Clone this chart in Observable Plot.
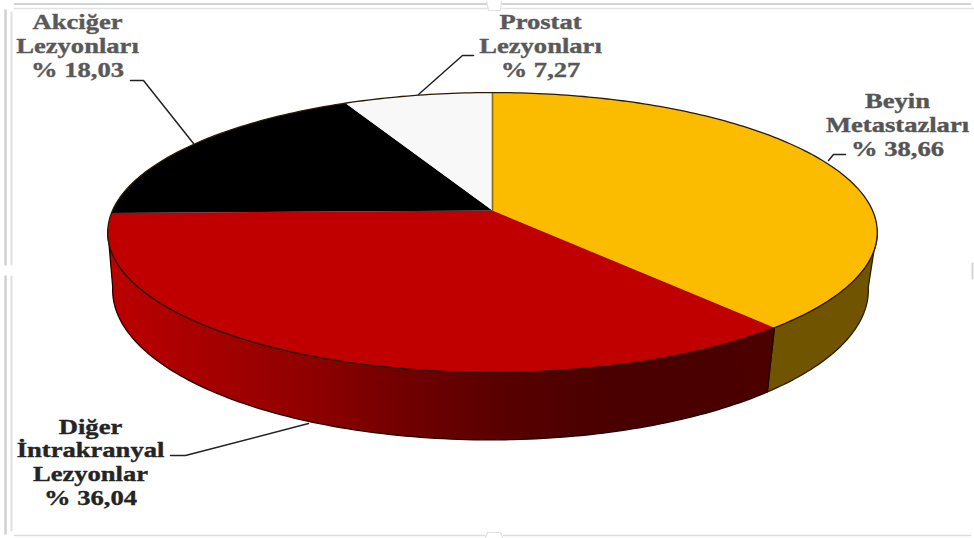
<!DOCTYPE html>
<html lang="tr">
<head>
<meta charset="utf-8">
<style>
  html, body { margin: 0; padding: 0; background: #fff; }
  svg { display: block; }
</style>
<script src="https://cdn.jsdelivr.net/npm/d3@7"></script>
<script src="https://cdn.jsdelivr.net/npm/@observablehq/plot@0.6"></script>
</head>
<body>
<div id="chart"></div>
<script>
// Slices, clockwise from twelve o'clock
const names = ["Beyin\nMetastazları", "Diğer\nİntrakranyal\nLezyonlar", "Akciğer\nLezyonları", "Prostat\nLezyonları"];
const shares = [38.66, 36.04, 18.03, 7.27];
const shareLabels = ["% 38,66", "% 36,04", "% 18,03", "% 7,27"];
const faceColors = ["#fbbc00", "#c00000", "#000000", "#f8f8f8"];
const labelColors = ["#555555", "#242424", "#595959", "#595959"];

// Where each label block is centred, and the elbowed leader running from it to the pie
const labelX = [897, 90, 77, 540];
const labelY = [124, 461, 45, 45];
const leaders = [
  [[845, 154], [833, 154], [828, 160]],
  [[170, 455], [185, 455], [308, 423]],
  [[130, 80], [143, 80], [193, 143]],
  [[473, 55], [462, 55], [418, 94]]
];

// Tilted disc: a projective map from the unit circle to the drawing plane
const centre = {x: 492, y: 210};
const spread = {x: 380, y: 103.5};
const tilt = 0.157;
function topPoint(deg) {
  const a = deg * Math.PI / 180;
  const u = Math.sin(a), v = -Math.cos(a), w = 1 - tilt * v;
  return {x: centre.x + spread.x * u / w, y: (centre.y + spread.y * v) / w};
}
// The underside of the disc, lower and slightly narrower
function basePoint(deg) {
  const p = topPoint(deg);
  return {x: 490 + (p.x - 492) * 0.982, y: 289.5 + (p.y - 232) * 150 / 140};
}
function arc(from, to, at) {
  const n = Math.max(2, Math.ceil(Math.abs(to - from)));
  return d3.range(n + 1).map(i => at(from + (to - from) * i / n));
}

const cuts = d3.cumsum(shares).map(s => s * 3.6);
const starts = [0, ...cuts.slice(0, -1)];

const faces = shares.map((_, i) => [centre, ...arc(starts[i], cuts[i], topPoint), centre]);

// The rim is visible between the two silhouette tangents of the disc
const visibleFrom = 98, visibleTo = 262;
const yellowSide = [...arc(visibleFrom, cuts[0], topPoint), ...arc(cuts[0], visibleFrom, basePoint), topPoint(visibleFrom)];
const redSide = [...arc(cuts[0], visibleTo, topPoint), ...arc(visibleTo, cuts[0], basePoint), topPoint(cuts[0])];

// Faint picture frame around the chart
const frameLines = [
  {c: "#c4c4c4", w: 1.6, p: [[14, 3.5], [486, 3.5]]},
  {c: "#c4c4c4", w: 1.6, p: [[502, 3.5], [970, 3.5]]},
  {c: "#e2e2e2", w: 1.4, p: [[14, 8], [486, 8]]},
  {c: "#e2e2e2", w: 1.4, p: [[502, 8], [974, 8]]},
  {c: "#cfcfcf", w: 2.4, p: [[5, 10], [5, 264]]},
  {c: "#cfcfcf", w: 2.4, p: [[5, 276], [5, 533]]},
  {c: "#e0e0e0", w: 2, p: [[11, 12], [11, 264]]},
  {c: "#e0e0e0", w: 2, p: [[11, 276], [11, 530]]},
  {c: "#dcdcdc", w: 1.6, p: [[14, 535], [484, 535]]},
  {c: "#dcdcdc", w: 1.6, p: [[503, 535], [970, 535]]},
  {c: "#e0e0e0", w: 1.2, p: [[486, 1], [488, 10], [500, 10], [501, 1]]},
  {c: "#e0e0e0", w: 1.2, p: [[485, 537], [487, 532], [500, 532], [502, 537]]},
  {c: "#d4d4d4", w: 2, p: [[972, 263], [972, 278]]}
];

// Side shading of the red slice runs from bright on the left to almost black
const redShade = [[0, "#bc0000"], [0.3, "#900000"], [0.45, "#700000"], [0.6, "#580000"], [0.75, "#4a0000"], [1, "#4c0000"]];
const shadeDefs = () => {
  const defs = d3.create("svg:defs");
  defs.append("linearGradient").attr("id", "red-side")
    .selectAll("stop").data(redShade).join("stop")
    .attr("offset", d => d[0]).attr("stop-color", d => d[1]);
  return defs.node();
};

// Text in this figure is set wide, so each label is stretched sideways
const widen = k => (index, scales, values, dims, context, next) => {
  const g = next(index, scales, values, dims, context);
  d3.select(g).selectAll("text").attr("transform", function () {
    return `${this.getAttribute("transform")} scale(${k},1)`;
  });
  return g;
};

const xy = {x: "x", y: "y"};
const pairs = pts => pts.map(([x, y]) => ({x, y}));

const chart = Plot.plot({
  width: 974,
  height: 538,
  margin: 0,
  x: {domain: [0, 974], range: [0, 974], axis: null},
  y: {domain: [0, 538], range: [0, 538], axis: null},
  style: {background: "#fff"},
  marks: [
    shadeDefs,
    ...frameLines.map(l => Plot.line(pairs(l.p), {...xy, stroke: l.c, strokeWidth: l.w})),

    // Rim of the disc
    Plot.line(yellowSide, {...xy, fill: "#705400", stroke: "#2a1c00", strokeWidth: 1.3}),
    Plot.line(redSide, {...xy, fill: "url(#red-side)", stroke: "#200000", strokeWidth: 1.3}),

    // Top face
    ...faces.map((f, i) => Plot.line(f, {...xy, fill: faceColors[i], stroke: "none"})),
    Plot.line([centre, topPoint(0)], {...xy, stroke: "#8a6a10", strokeWidth: 1.6}),
    Plot.line(arc(0, 360, topPoint), {...xy, stroke: "#2a1a00", strokeWidth: 1.3}),

    // Leaders and labels
    ...leaders.map(l => Plot.line(pairs(l), {...xy, stroke: "#222", strokeWidth: 1.5})),
    ...names.map((name, i) => Plot.text([`${name}\n${shareLabels[i]}`], {
      x: labelX[i],
      y: labelY[i],
      text: d => d,
      fill: labelColors[i],
      stroke: labelColors[i],
      strokeWidth: 0.35,
      fontFamily: "Liberation Serif",
      fontWeight: "bold",
      fontSize: 20,
      lineHeight: 1.185,
      textAnchor: "middle",
      lineAnchor: "middle",
      render: widen(1.33)
    }))
  ]
});
document.getElementById("chart").append(chart);
</script>
</body>
</html>
